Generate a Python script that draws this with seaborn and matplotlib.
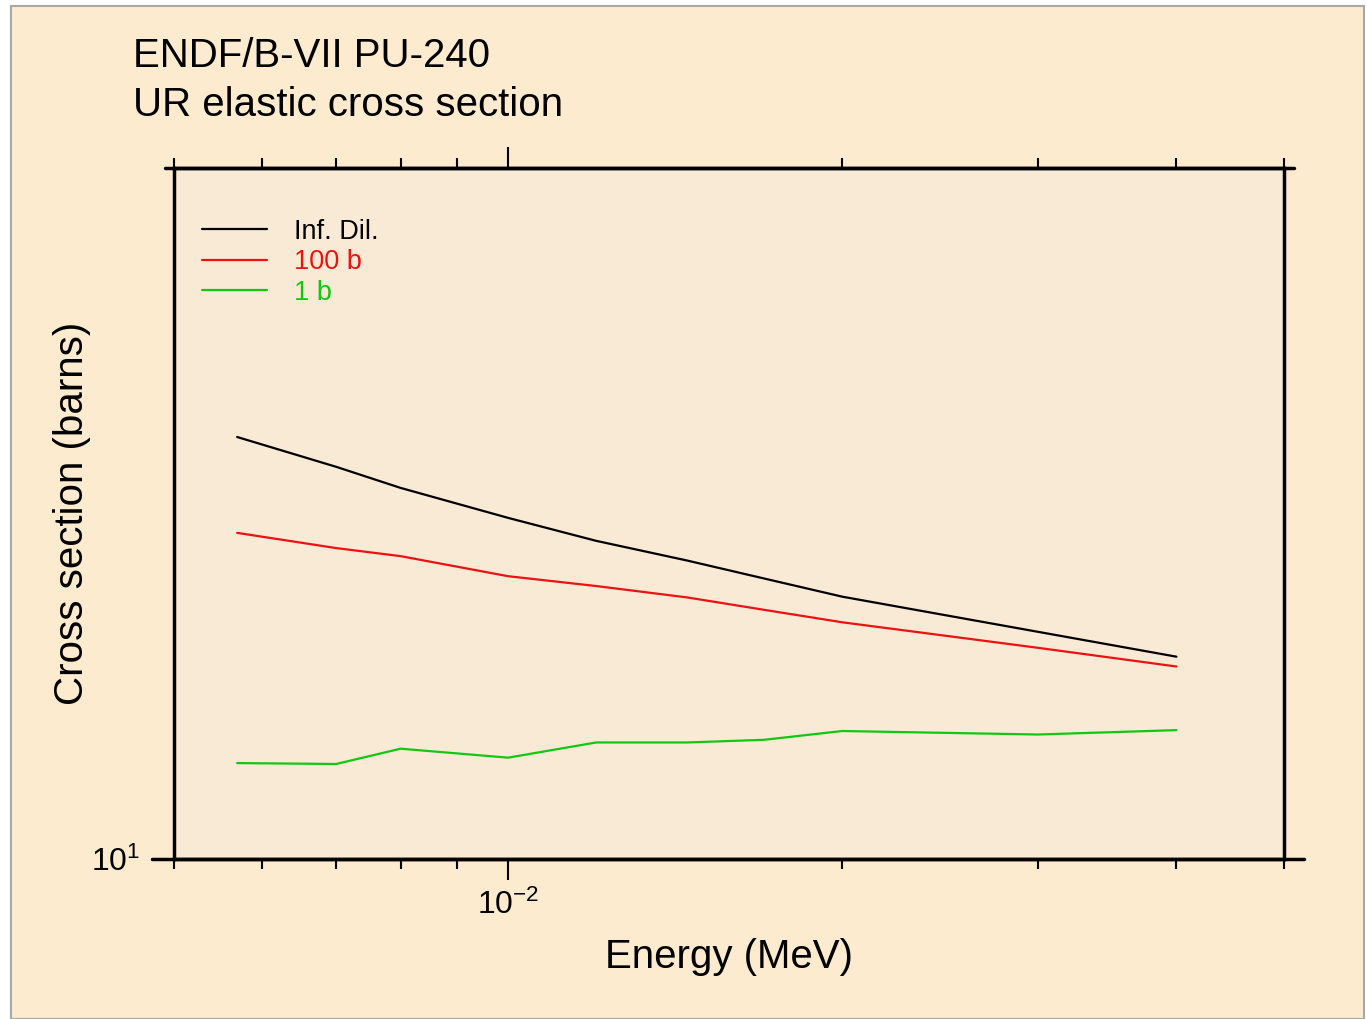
import numpy as np
import pandas as pd
import matplotlib
matplotlib.use("Agg")
import matplotlib.pyplot as plt
import seaborn as sns
from matplotlib.lines import Line2D
from matplotlib.patches import Rectangle
from matplotlib.ticker import LogLocator, NullFormatter, FixedLocator

# ---- data ----
energy_mev = [5.7e-3, 7e-3, 8e-3, 1e-2, 1.2e-2, 1.45e-2, 1.7e-2, 2e-2, 3e-2, 4e-2]
inf_dil = [15.27, 14.82, 14.51, 14.08, 13.76, 13.49, 13.25, 13.01, 12.56, 12.25]
dil_100b = [13.87, 13.66, 13.55, 13.28, 13.15, 13.00, 12.84, 12.68, 12.36, 12.13]
dil_1b = [11.01, 11.00, 11.17, 11.07, 11.24, 11.24, 11.27, 11.37, 11.33, 11.38]
series_names = ["Inf. Dil.", "100 b", "1 b"]
series_colors = ["#000000", "#EE1111", "#11C811"]

df = pd.DataFrame({
    "Energy": energy_mev * 3,
    "xs": inf_dil + dil_100b + dil_1b,
    "series": [series_names[0]] * len(energy_mev)
              + [series_names[1]] * len(energy_mev)
              + [series_names[2]] * len(energy_mev),
})

sns.set_theme(style="white")
plt.rcParams["font.family"] = ["Liberation Sans", "DejaVu Sans"]
plt.rcParams["mathtext.fontset"] = "custom"
plt.rcParams["mathtext.rm"] = "Liberation Sans"
plt.rcParams["mathtext.it"] = "Liberation Sans"
plt.rcParams["mathtext.default"] = "rm"

W, H = 1366, 1019
fig = plt.figure(figsize=(W / 100, H / 100), dpi=100, facecolor="white")

# background panel with grey border
fig.add_artist(Rectangle((11 / W, 0), (1364 - 11) / W, 1 - 6 / H,
                         transform=fig.transFigure, facecolor="#FDEBCF",
                         edgecolor="#A8A8A8", linewidth=1.5, zorder=0))

x0, x1, yt, yb = 174, 1284, 168, 859
ax = fig.add_axes([x0 / W, 1 - yb / H, (x1 - x0) / W, (yb - yt) / H])
ax.set_facecolor("#F9EAD6")

sns.lineplot(data=df, x="Energy", y="xs", hue="series",
             palette=dict(zip(series_names, series_colors)),
             linewidth=1.6, ax=ax, legend=False, sort=False)

ax.set_xscale("log")
ax.set_yscale("log")
ax.set_xlim(5e-3, 5e-2)
ax.set_ylim(10, 20)

for s in ax.spines.values():
    s.set_color("black")
    s.set_linewidth(2.5)
    s.set_visible(True)

ax.xaxis.set_major_locator(FixedLocator([1e-2]))
ax.xaxis.set_minor_locator(LogLocator(base=10, subs=np.arange(2, 10)))
ax.xaxis.set_minor_formatter(NullFormatter())
ax.set_xticks([1e-2])
ax.set_xticklabels([r"$10^{-2}$"])
ax.yaxis.set_major_locator(FixedLocator([10]))
ax.yaxis.set_minor_locator(FixedLocator([]))
ax.set_yticks([10])
ax.set_yticklabels([r"$10^{1}$"])

ax.tick_params(axis="x", which="major", direction="out", length=15, width=1.5,
               top=True, bottom=True, labelsize=23, pad=7, color="black",
               labelcolor="black")
ax.tick_params(axis="x", which="minor", direction="out", length=7, width=1.5,
               top=True, bottom=True, color="black")
ax.tick_params(axis="y", which="major", direction="out", length=0, width=1.5,
               left=True, right=False, labelsize=23, pad=24, color="black",
               labelcolor="black")

ax.set_xlabel("Energy (MeV)", fontsize=29, labelpad=12, color="black")
ax.set_ylabel("Cross section (barns)", fontsize=29, labelpad=0, color="black")

# extended axis lines
def hline(y, xa, xb, lw=2.5):
    fig.add_artist(Line2D([xa / W, xb / W], [1 - y / H, 1 - y / H],
                          transform=fig.transFigure, color="black", linewidth=lw))

hline(yb, 152, 1304)
hline(yt, 165, 1294)

# legend
handles = [Line2D([0], [0], color=c, linewidth=1.6) for c in series_colors]
leg = ax.legend(handles, series_names, loc="upper left",
                bbox_to_anchor=(17 / (x1 - x0), 1 - 40 / (yb - yt)),
                frameon=False, fontsize=19.5, handlelength=2.4, handletextpad=1.0,
                labelspacing=0.16, borderaxespad=0)
for t, c in zip(leg.get_texts(), series_colors):
    t.set_color(c)

fig.text(133 / W, 1 - 56 / H, "ENDF/B-VII PU-240", fontsize=29,
         va="center", ha="left", color="black")
fig.text(133 / W, 1 - 105 / H, "UR elastic cross section", fontsize=29,
         va="center", ha="left", color="black")

fig.savefig("out.png", dpi=100, facecolor=fig.get_facecolor())
